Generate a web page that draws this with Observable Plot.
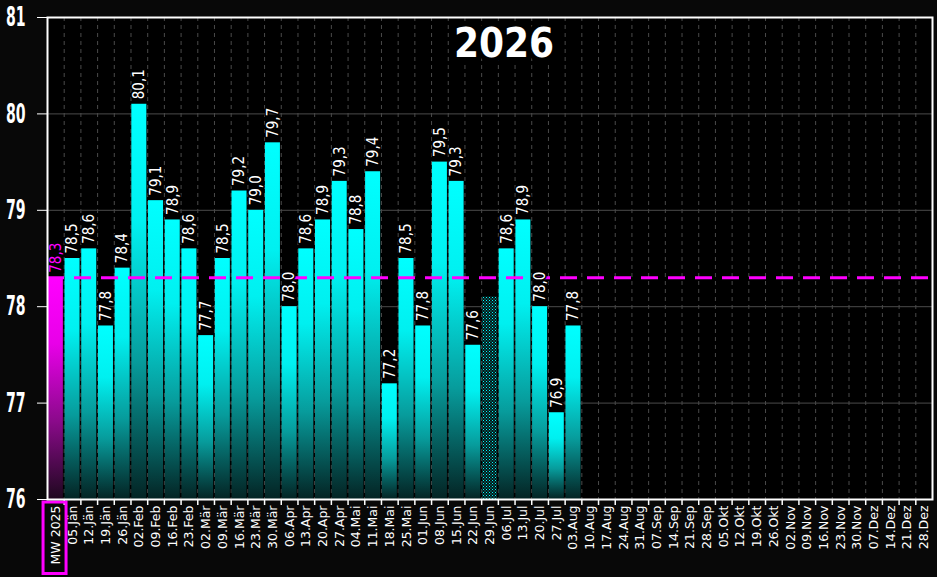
<!DOCTYPE html>
<html>
<head>
<meta charset="utf-8">
<script src="https://cdn.jsdelivr.net/npm/d3@7"></script>
<script src="https://cdn.jsdelivr.net/npm/@observablehq/plot@0.6"></script>
<style>
  html, body { margin: 0; padding: 0; background: #080808; }
  #chart svg { display: block; }
</style>
</head>
<body>
<div id="chart"></div>
<script>
// ---- data ----
const title = "2026";
const refLabel = "MW 2025";
const refValue = 78.3;
const weeks = ["05.Jän","12.Jän","19.Jän","26.Jän","02.Feb","09.Feb","16.Feb","23.Feb",
  "02.Mär","09.Mär","16.Mär","23.Mär","30.Mär","06.Apr","13.Apr","20.Apr","27.Apr",
  "04.Mai","11.Mai","18.Mai","25.Mai","01.Jun","08.Jun","15.Jun","22.Jun","29.Jun",
  "06.Jul","13.Jul","20.Jul","27.Jul","03.Aug","10.Aug","17.Aug","24.Aug","31.Aug",
  "07.Sep","14.Sep","21.Sep","28.Sep","05.Okt","12.Okt","19.Okt","26.Okt",
  "02.Nov","09.Nov","16.Nov","23.Nov","30.Nov","07.Dez","14.Dez","21.Dez","28.Dez"];
const values = [78.5,78.6,77.8,78.4,80.1,79.1,78.9,78.6,
  77.7,78.5,79.2,79.0,79.7,78.0,78.6,78.9,79.3,
  78.8,79.4,77.2,78.5,77.8,79.5,79.3,77.6,null,
  78.6,78.9,78.0,76.9,77.8];
const missingWeek = "29.Jun";
const missingValue = 78.1;
const yTicks = [76, 77, 78, 79, 80, 81];

// ---- derived tables ----
const categories = [refLabel, ...weeks];
const weekData = weeks.map((w, i) => ({week: w, value: values[i] ?? null}))
  .filter(d => d.value != null);
const refData = [{week: refLabel, value: refValue}];
const missingData = [{week: missingWeek, value: missingValue}];
const yMin = yTicks[0], yMax = yTicks[yTicks.length - 1];
const fmt = v => v.toFixed(1).replace(".", ",");

const W = 937, H = 577, mL = 47, mR = 5, mT = 17, mB = 78;
const pIn = 0.1, pOut = 0.05;
const step = (W - mL - mR) / (categories.length - pIn + 2 * pOut);

const condensed = "'DejaVu Sans Condensed', 'DejaVu Sans', sans-serif";

function defs() {
  const d = d3.create("svg:defs");
  const g1 = d.append("linearGradient").attr("id", "cyanGrad")
    .attr("x1", 0).attr("y1", 0).attr("x2", 0).attr("y2", 1);
  [[0, "#00ffff"], [0.3, "#00f0f0"], [0.65, "#079c9c"], [1, "#042424"]]
    .forEach(([o, c]) => g1.append("stop").attr("offset", o).attr("stop-color", c));
  const g2 = d.append("linearGradient").attr("id", "magGrad")
    .attr("x1", 0).attr("y1", 0).attr("x2", 0).attr("y2", 1);
  [[0, "#ff00ff"], [0.3, "#e800e8"], [0.65, "#8a0a8a"], [1, "#1e081e"]]
    .forEach(([o, c]) => g2.append("stop").attr("offset", o).attr("stop-color", c));
  const p = d.append("pattern").attr("id", "dots")
    .attr("patternUnits", "userSpaceOnUse").attr("width", 3).attr("height", 3);
  p.append("rect").attr("width", 3).attr("height", 3).attr("fill", "#061414");
  p.append("rect").attr("x", 0).attr("y", 0).attr("width", 1).attr("height", 1).attr("fill", "#00ffff");
  p.append("rect").attr("x", 1.5).attr("y", 1.5).attr("width", 1).attr("height", 1).attr("fill", "#00d8d8");
  return d.node();
}

function refBox(index, scales, vals, dims) {
  const bw = scales.x.bandwidth ? scales.x.bandwidth() : 15;
  const cx = scales.x(refLabel) + bw / 2 - 0.8;
  const y0 = dims.height - dims.marginBottom + 3;
  return d3.create("svg:rect")
    .attr("x", cx - 11.5).attr("y", y0)
    .attr("width", 23).attr("height", dims.height - y0 - 3.5)
    .attr("fill", "none").attr("stroke", "#ff00ff").attr("stroke-width", 3)
    .node();
}

const chart = Plot.plot({
  width: W, height: H,
  marginLeft: mL, marginRight: mR, marginTop: mT, marginBottom: mB,
  style: {background: "#080808", color: "#fff", fontFamily: "'DejaVu Sans', sans-serif"},
  x: {type: "band", domain: categories, paddingInner: pIn, paddingOuter: pOut, axis: null, label: null},
  y: {domain: [yMin, yMax], axis: null, label: null},
  marks: [
    defs,
    Plot.frame({fill: "#000", stroke: null}),
    Plot.gridY(yTicks.slice(1, -1), {stroke: "#4a4a4a", strokeOpacity: 1, strokeWidth: 1}),
    Plot.ruleX(categories.slice(1), {x: d => d, dx: -step / 2, stroke: "#4a4a4a", strokeWidth: 1, strokeDasharray: "4,4"}),
    Plot.barY(weekData, {x: "week", y1: () => yMin, y2: "value", fill: "url(#cyanGrad)"}),
    Plot.barY(refData, {x: "week", y1: () => yMin, y2: "value", fill: "url(#magGrad)"}),
    Plot.barY(missingData, {x: "week", y1: () => yMin, y2: "value", fill: "url(#dots)"}),
    Plot.ruleY([refValue], {stroke: "#ff00ff", strokeWidth: 3, strokeDasharray: "17,10"}),
    Plot.text(weekData, {x: "week", y: "value", text: d => fmt(d.value), rotate: -90, textAnchor: "start",
      dy: -5, fill: "#fff", stroke: "#000", strokeWidth: 3, fontSize: 15, fontFamily: condensed}),
    Plot.text(refData, {x: "week", y: "value", text: d => fmt(d.value), rotate: -90, textAnchor: "start",
      dy: -5, fill: "#ff00ff", stroke: "#000", strokeWidth: 3, fontSize: 15, fontFamily: condensed}),
    Plot.text([title], {frameAnchor: "top", dx: 14, dy: 11, text: d => d, fill: "#fff", stroke: "#000",
      strokeWidth: 10, fontSize: 40, fontWeight: "bold", fontFamily: condensed}),
    Plot.ruleX(categories.slice(1), {x: d => d, dx: -step / 2, y1: () => yMin, y2: () => yMin,
      insetBottom: -6, stroke: "#fff", strokeWidth: 1.5}),
    Plot.axisX({tickSize: 0, tickRotate: -90, tickPadding: 6, fontSize: 12.5, fill: "#fff", label: null,
      fontFamily: "'DejaVu Sans', sans-serif"}),
    refBox,
    Plot.axisY({ticks: yTicks, tickFormat: d => String(d), label: null, tickSize: 10, tickPadding: 12,
      fontSize: 27, fontWeight: "bold", fontFamily: condensed, fill: "#fff", stroke: "#fff", strokeWidth: 1}),
    Plot.frame({stroke: "#fff", strokeWidth: 2})
  ]
});
// narrow the y tick labels (about their own anchor) to mimic the condensed face of the original
chart.querySelectorAll('[aria-label="y-axis tick label"] text').forEach(t => {
  const tr = t.getAttribute("transform") || "";
  const x = +(t.getAttribute("x") || 0);
  t.setAttribute("transform", `${tr} translate(${x},0) scale(0.58,1) translate(${-x},0)`);
});
document.getElementById("chart").append(chart);
</script>
</body>
</html>
